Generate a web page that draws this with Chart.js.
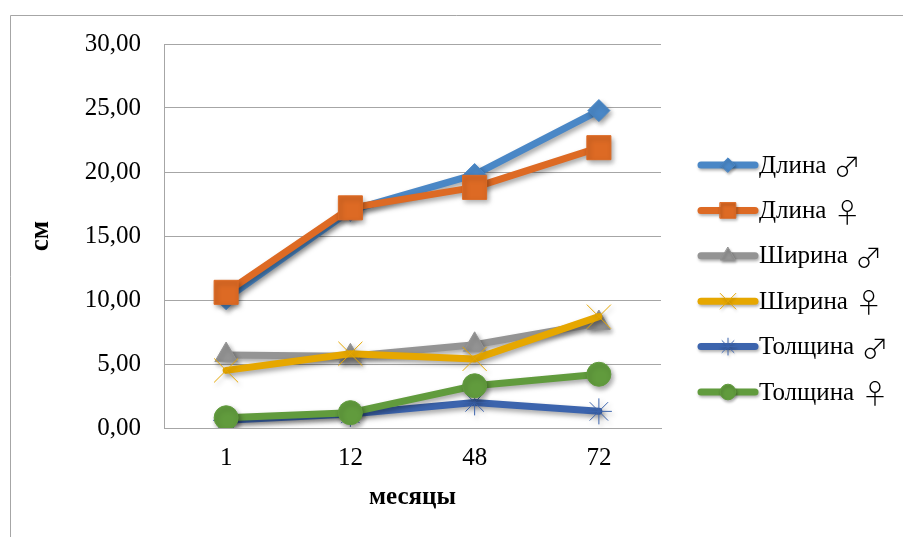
<!DOCTYPE html>
<html>
<head>
<meta charset="utf-8">
<script src="https://cdn.jsdelivr.net/npm/chart.js@4/dist/chart.umd.min.js"></script>
<style>
  html, body { margin: 0; padding: 0; background: #fff; }
  #wrap { width: 903px; height: 537px; }
</style>
</head>
<body>
<div id="wrap"><canvas id="chart" width="903" height="537"></canvas></div>
<script>
// возраст, месяцы
var months = ['1', '12', '48', '72'];

// размеры, см
var lengthMale = [10.1, 17.0, 19.8, 24.8];
var lengthFemale = [10.6, 17.2, 18.8, 21.9];
var widthMale = [5.7, 5.6, 6.5, 8.2];
var widthFemale = [4.5, 5.8, 5.4, 8.7];
var thickMale = [0.6, 1.1, 2.0, 1.3];
var thickFemale = [0.8, 1.2, 3.3, 4.2];

var yTicks = [0, 5, 10, 15, 20, 25, 30];

var FONT = "'Liberation Serif', 'Times New Roman', serif";
var SYMBOL_FONT = "'Noto Sans CJK JP', 'DejaVu Sans'";
var GRID = '#a6a6a6';

function series(label, data, color, style, radius, order) {
  return {
    label: label,
    data: data,
    borderColor: color,
    borderWidth: 7,
    borderJoinStyle: 'round',
    borderCapStyle: 'round',
    tension: 0,
    fill: false,
    pointStyle: style,
    pointRadius: radius,
    pointHoverRadius: radius,
    pointBackgroundColor: color,
    pointBorderColor: color,
    pointBorderWidth: 1,
    order: order
  };
}

// drop shadow under every series, like the office chart style
var shadows = {
  id: 'shadows',
  beforeDatasetDraw: function (chart) {
    var ctx = chart.ctx;
    ctx.save();
    ctx.shadowColor = 'rgba(0,0,0,0.35)';
    ctx.shadowBlur = 5;
    ctx.shadowOffsetX = 2;
    ctx.shadowOffsetY = 3;
  },
  afterDatasetDraw: function (chart) {
    chart.ctx.restore();
  }
};

// outer frame (left and top edges only)
var frame = {
  id: 'frame',
  beforeDraw: function (chart) {
    var ctx = chart.ctx;
    ctx.save();
    ctx.strokeStyle = GRID;
    ctx.lineWidth = 1;
    ctx.beginPath();
    ctx.moveTo(10.5, chart.height);
    ctx.lineTo(10.5, 15.5);
    ctx.lineTo(chart.width, 15.5);
    ctx.stroke();
    ctx.restore();
  }
};

// legend on the right: line segment with the marker in the middle
var sideLegend = {
  id: 'sideLegend',
  afterDraw: function (chart) {
    var ctx = chart.ctx;
    chart.data.datasets.forEach(function (ds, i) {
      var y = 165 + i * 45.4;
      ctx.save();
      ctx.shadowColor = 'rgba(0,0,0,0.3)';
      ctx.shadowBlur = 3;
      ctx.shadowOffsetX = 1;
      ctx.shadowOffsetY = 2;
      ctx.strokeStyle = ds.borderColor;
      ctx.lineWidth = 7;
      ctx.lineCap = 'round';
      ctx.beginPath();
      ctx.moveTo(701, y);
      ctx.lineTo(755, y);
      ctx.stroke();
      ctx.fillStyle = ds.pointBackgroundColor;
      ctx.strokeStyle = ds.pointBorderColor;
      ctx.lineWidth = 1;
      Chart.helpers.drawPoint(ctx, {
        pointStyle: ds.pointStyle,
        radius: ds.pointRadius * 0.65,
        rotation: 0,
        borderWidth: 1
      }, 728, y);
      ctx.restore();

      // name in serif, the sex sign in a thin full-width glyph
      var parts = ds.label.split(' ');
      ctx.save();
      ctx.fillStyle = '#000';
      ctx.textBaseline = 'middle';
      ctx.font = '25px ' + FONT;
      ctx.fillText(parts[0], 759, y + 1);
      var x = 759 + ctx.measureText(parts[0] + ' ').width;
      ctx.font = '300 27px ' + SYMBOL_FONT;
      ctx.fillText(parts[1], x + 1, y + 2);
      ctx.restore();
    });
  }
};

var ctx = document.getElementById('chart');
var chart = new Chart(ctx, {
  type: 'line',
  data: {
    labels: months,
    datasets: [
      series('Длина ♂', lengthMale, '#4a87c6', 'rectRot', 11, 5),
      series('Длина ♀', lengthFemale, '#dd6a24', 'rect', 17, 4),
      series('Ширина ♂', widthMale, '#949494', 'triangle', 13, 3),
      series('Ширина ♀', widthFemale, '#e6a700', 'crossRot', 17, 2),
      series('Толщина ♂', thickMale, '#3c64ad', 'star', 13, 1),
      series('Толщина ♀', thickFemale, '#619b3d', 'circle', 12, 0)
    ]
  },
  options: {
    responsive: false,
    animation: false,
    devicePixelRatio: 1,
    layout: { padding: { left: 21, top: 44, right: 242, bottom: 20 } },
    plugins: {
      legend: { display: false },
      tooltip: { enabled: false }
    },
    scales: {
      x: {
        offset: true,
        grid: { display: false, drawTicks: false },
        border: { display: true, color: GRID, width: 1 },
        ticks: { color: '#000', padding: 15, font: { family: FONT, size: 25 } },
        title: {
          display: true,
          text: 'месяцы',
          color: '#000',
          font: { family: FONT, size: 25, weight: 'bold' }
        },
        afterFit: function (s) { s.height = 89; }
      },
      y: {
        min: 0,
        max: 30,
        grid: { color: GRID, lineWidth: 1, drawTicks: false },
        border: { display: true, color: GRID, width: 1 },
        ticks: {
          color: '#000',
          padding: 23,
          font: { family: FONT, size: 25 },
          callback: function (v) { return v.toFixed(2).replace('.', ','); }
        },
        afterBuildTicks: function (s) {
          s.ticks = yTicks.map(function (v) { return { value: v }; });
        },
        title: {
          display: true,
          text: 'см',
          color: '#000',
          font: { family: FONT, size: 27, weight: 'bold' }
        },
        afterFit: function (s) { s.width = 164 - 21; }
      }
    }
  },
  plugins: [frame, shadows, sideLegend]
});
</script>
</body>
</html>
